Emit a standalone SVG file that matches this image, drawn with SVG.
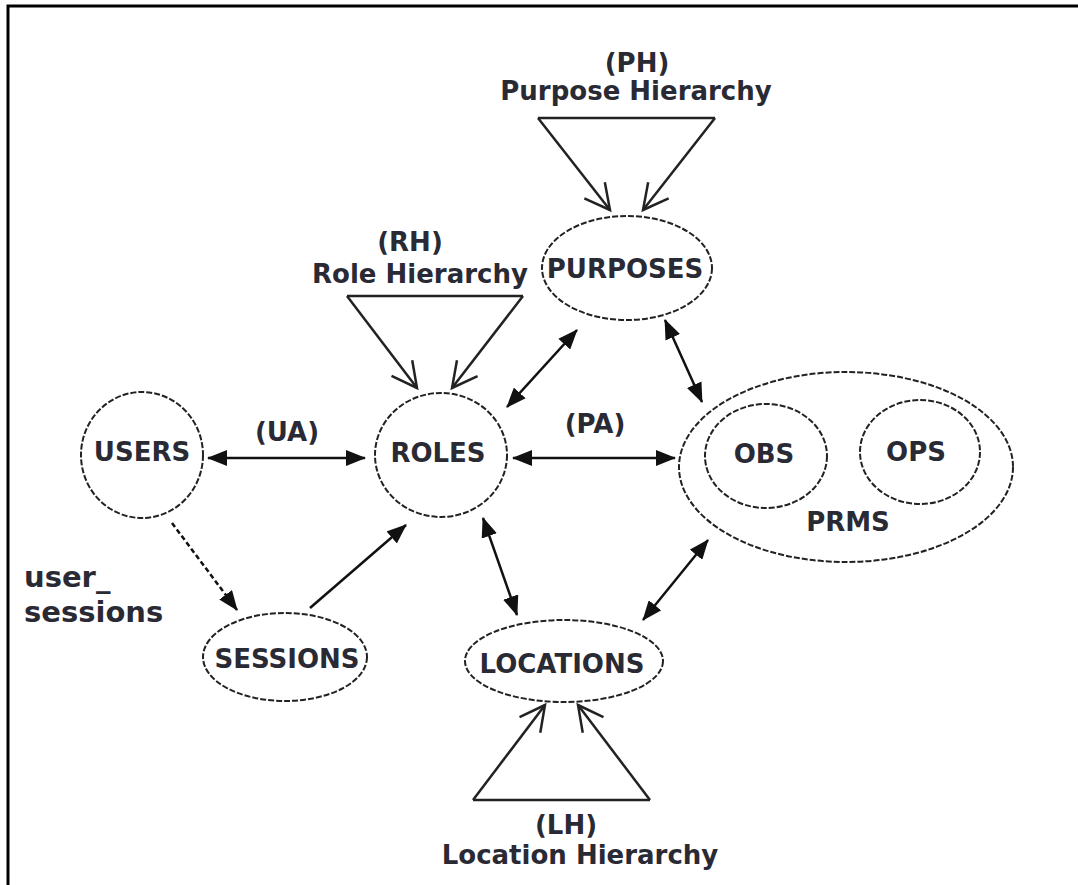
<svg xmlns="http://www.w3.org/2000/svg" width="1078" height="885" viewBox="0 0 1078 885">
<defs>
<style>
.node{fill:none;stroke:#222;stroke-width:2;stroke-dasharray:6 2}
.lbl{font-family:"DejaVu Sans",Verdana,sans-serif;font-weight:bold;font-size:26px;fill:#2a2a35;text-anchor:middle}
.big{font-size:29px;text-anchor:start}
.conn{stroke:#111;stroke-width:2.5;fill:none}
.hier{stroke:#222;stroke-width:2.5;fill:none}
</style>
<marker id="fa" markerUnits="userSpaceOnUse" markerWidth="22" markerHeight="16" refX="19" refY="8" orient="auto-start-reverse">
<path d="M0,0 L20,8 L0,16 z" fill="#111"/>
</marker>
<marker id="oa" markerUnits="userSpaceOnUse" markerWidth="30" markerHeight="30" refX="27" refY="15" orient="auto" overflow="visible">
<path d="M2,2 L27,15 L2,28" fill="none" stroke="#222" stroke-width="2.5"/>
</marker>
</defs>
<rect width="1078" height="885" fill="#fff"/>
<path d="M8,885 V6 H1078" fill="none" stroke="#000" stroke-width="3"/>

<g id="users"><ellipse class="node" cx="142" cy="455" rx="61" ry="63"/><text class="lbl" x="142" y="461">USERS</text></g>
<g id="roles"><ellipse class="node" cx="441" cy="455" rx="66" ry="62"/><text class="lbl" x="438" y="462">ROLES</text></g>
<g id="purposes"><ellipse class="node" cx="627" cy="268" rx="85" ry="52"/><text class="lbl" x="625" y="278">PURPOSES</text></g>
<g id="prms"><ellipse class="node" cx="846" cy="467" rx="167" ry="95"/><text class="lbl" x="848" y="531">PRMS</text></g>
<g id="obs"><ellipse class="node" cx="766" cy="456" rx="61" ry="52"/><text class="lbl" x="764" y="463">OBS</text></g>
<g id="ops"><ellipse class="node" cx="920" cy="452" rx="60" ry="52"/><text class="lbl" x="916" y="461">OPS</text></g>
<g id="sessions"><ellipse class="node" cx="285" cy="657" rx="82" ry="44"/><text class="lbl" x="287" y="668">SESSIONS</text></g>
<g id="locations"><ellipse class="node" cx="564" cy="661" rx="99" ry="41"/><text class="lbl" x="562" y="673">LOCATIONS</text></g>

<g id="purpose-hierarchy">
<path class="hier" d="M538,118 H715"/>
<path class="hier" d="M538,118 L610,210" marker-end="url(#oa)"/>
<path class="hier" d="M715,118 L643,210" marker-end="url(#oa)"/>
<text class="lbl" x="637" y="72">(PH)</text>
<text class="lbl" x="636" y="100">Purpose Hierarchy</text>
</g>
<g id="role-hierarchy">
<path class="hier" d="M347,296 H523"/>
<path class="hier" d="M347,296 L417,388" marker-end="url(#oa)"/>
<path class="hier" d="M523,296 L452,388" marker-end="url(#oa)"/>
<text class="lbl" x="410" y="251">(RH)</text>
<text class="lbl" x="420" y="283">Role Hierarchy</text>
</g>
<g id="location-hierarchy">
<path class="hier" d="M473,800 H650"/>
<path class="hier" d="M473,800 L545,705" marker-end="url(#oa)"/>
<path class="hier" d="M650,800 L578,705" marker-end="url(#oa)"/>
<text class="lbl" x="566" y="834">(LH)</text>
<text class="lbl" x="580" y="864">Location Hierarchy</text>
</g>

<g id="connectors">
<path class="conn" d="M208,458 H365" marker-start="url(#fa)" marker-end="url(#fa)"/>
<path class="conn" d="M513,458 H675" marker-start="url(#fa)" marker-end="url(#fa)"/>
<path class="conn" d="M507,407 L577,330" marker-start="url(#fa)" marker-end="url(#fa)"/>
<path class="conn" d="M665,320 L702,402" marker-start="url(#fa)" marker-end="url(#fa)"/>
<path class="conn" d="M483,518 L517,615" marker-start="url(#fa)" marker-end="url(#fa)"/>
<path class="conn" d="M708,540 L643,620" marker-start="url(#fa)" marker-end="url(#fa)"/>
<path class="conn" d="M310,608 L406,525" marker-end="url(#fa)"/>
<path class="conn" d="M172,523 L237,610" stroke-width="1.8" stroke-dasharray="5 3" marker-end="url(#fa)"/>
</g>

<g id="labels">
<text class="lbl" x="287" y="441">(UA)</text>
<text class="lbl" x="595" y="433">(PA)</text>
<text class="lbl big" x="24" y="587">user_</text>
<text class="lbl big" x="24" y="622">sessions</text>
</g>
</svg>
